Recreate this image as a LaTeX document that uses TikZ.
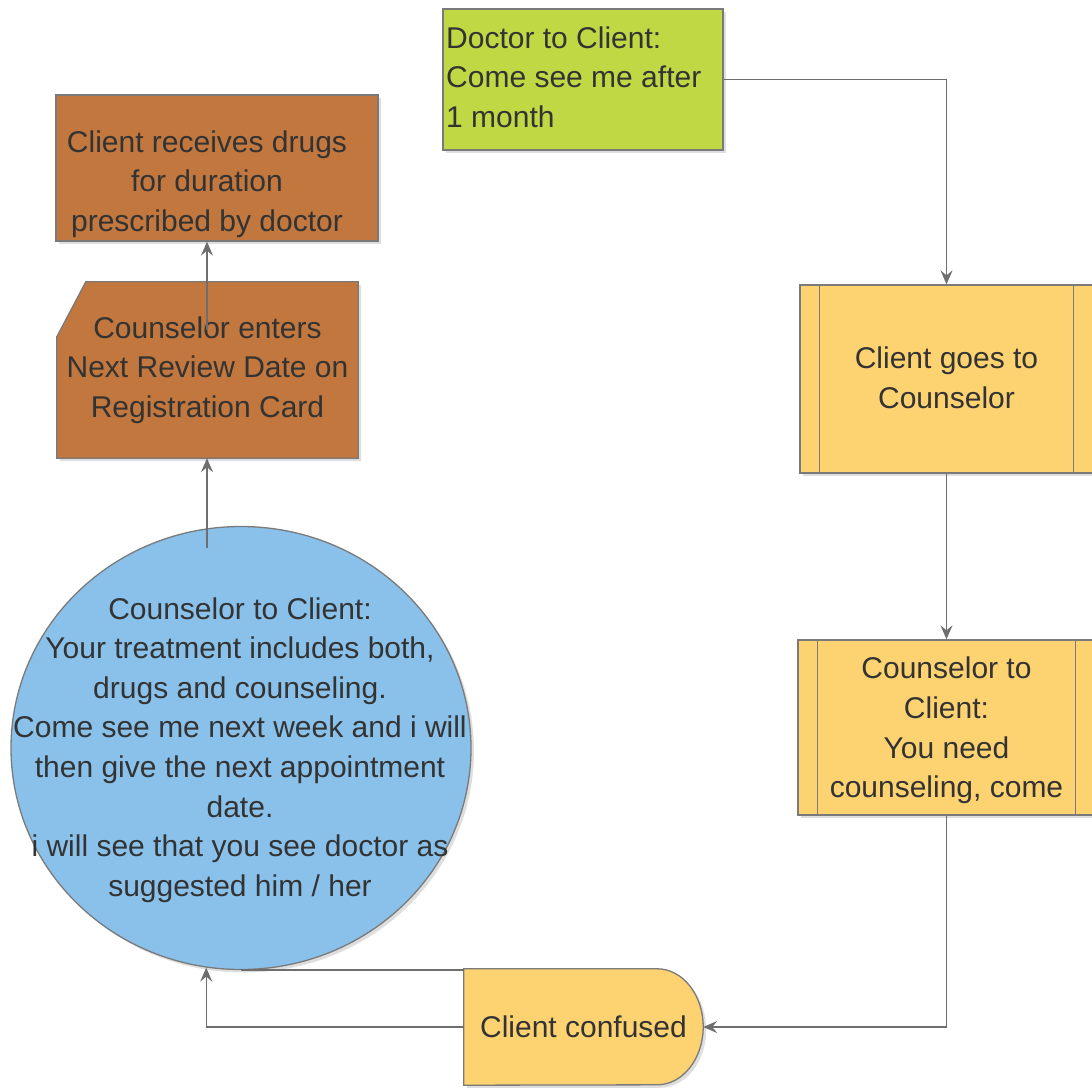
\documentclass[tikz,border=0pt]{standalone}
\usepackage{fontspec}
\setmainfont{Liberation Sans}
\usetikzlibrary{arrows.meta,shadows,calc,backgrounds,shapes.geometric}

\definecolor{limefill}{HTML}{C1D845}
\definecolor{brownfill}{HTML}{C1773E}
\definecolor{bluefill}{HTML}{89C1EA}
\definecolor{yellowfill}{HTML}{FDD271}
\definecolor{edgegray}{HTML}{7A7A7A}
\definecolor{wiregray}{HTML}{6E6E6E}
\definecolor{txt}{HTML}{333333}

\begin{document}
\begin{tikzpicture}[x=1pt,y=-1pt,
  every node/.style={font=\fontsize{30}{39.6}\selectfont, text=txt, inner sep=0pt},
  shadowed/.style={drop shadow={shadow xshift=3pt,shadow yshift=-3pt,fill=black!13,opacity=1}},
  shapebox/.style={draw=edgegray, line width=1.3pt, shadowed},
  conn/.style={draw=wiregray, line width=1.4pt, -{Stealth[length=14pt,width=12pt,inset=5pt]}},
  plainline/.style={draw=wiregray, line width=1.4pt},
]
\useasboundingbox (0,0) rectangle (1092,1087);

% Doctor's instruction
\node[shapebox, fill=limefill, minimum width=280pt, minimum height=141pt] (doc) at (583,79.5) {};
\node[anchor=west, align=left] (doctext) at (446,77) {Doctor to Client:\\Come see me after\\1 month};

% Drugs handed out
\node[shapebox, fill=brownfill, minimum width=322pt, minimum height=146pt] (drugs) at (217,168) {};
\node[align=center] (drugstext) at (207,184) {Client receives drugs\\for duration\\prescribed by doctor};

% Registration card (manual input shape)
\node[minimum width=301pt, minimum height=176pt, align=center] (card) at (207.5,370)
  {Counselor enters\\Next Review Date on\\Registration Card};
\begin{scope}[on background layer]
  \path[shapebox, fill=brownfill]
    (card.south west) -- (card.south east) -- (card.north east)
    -- ($(card.north west)+(29,0)$) -- ($(card.north west)+(0,55)$) -- cycle;
\end{scope}

% Counselor's explanation
\node[shapebox, fill=bluefill, ellipse, minimum width=460pt, minimum height=443pt] (circ) at (241,748) {};
\node[align=center] (circtext) at (240,750) {Counselor to Client:\\Your treatment includes both,\\drugs and counseling.\\Come see me next week and i will\\then give the next appointment\\date.\\i will see that you see doctor as\\suggested him / her};

% Predefined processes
\node[shapebox, fill=yellowfill, minimum width=293pt, minimum height=188pt] (proc1) at (946.5,379) {};
\node[align=center] (proc1text) at (946.5,378) {Client goes to\\Counselor};
\draw[edgegray, line width=1.3pt] ($(proc1.north west)+(20,0)$) -- ($(proc1.south west)+(20,0)$);
\draw[edgegray, line width=1.3pt] ($(proc1.north east)+(-20,0)$) -- ($(proc1.south east)+(-20,0)$);

\node[shapebox, fill=yellowfill, minimum width=297pt, minimum height=175pt] (proc2) at (946.5,727.5) {};
\node[align=center] (proc2text) at (946.5,730.5) {Counselor to\\Client:\\You need\\counseling, come};
\draw[edgegray, line width=1.3pt] ($(proc2.north west)+(20,0)$) -- ($(proc2.south west)+(20,0)$);
\draw[edgegray, line width=1.3pt] ($(proc2.north east)+(-20,0)$) -- ($(proc2.south east)+(-20,0)$);

% Delay shape
\node[minimum width=239pt, minimum height=116pt] (delay) at (583.5,1027) {Client confused};
\begin{scope}[on background layer]
  \path[shapebox, fill=yellowfill]
    (delay.south west) -- (delay.north west) -- ($(delay.north east)+(-46,0)$)
    arc[start angle=90, end angle=-90, x radius=46pt, y radius=58pt] -- cycle;
\end{scope}

% Connectors
\draw[conn] (doc.east) -| (proc1.north);
\draw[conn] (proc1.south) -- (proc2.north);
\draw[conn] (proc2.south) |- (delay.east);
\draw[conn] (delay.west) -| (circ.261);
\draw[plainline] (circ.south) -- (circ.south -| delay.west);
\coordinate (c1) at (207,548);
\draw[conn] (c1) -- (c1 |- card.south);
\coordinate (c2) at (207,330);
\draw[conn] (c2) -- (c2 |- drugs.south);
\end{tikzpicture}
\end{document}
